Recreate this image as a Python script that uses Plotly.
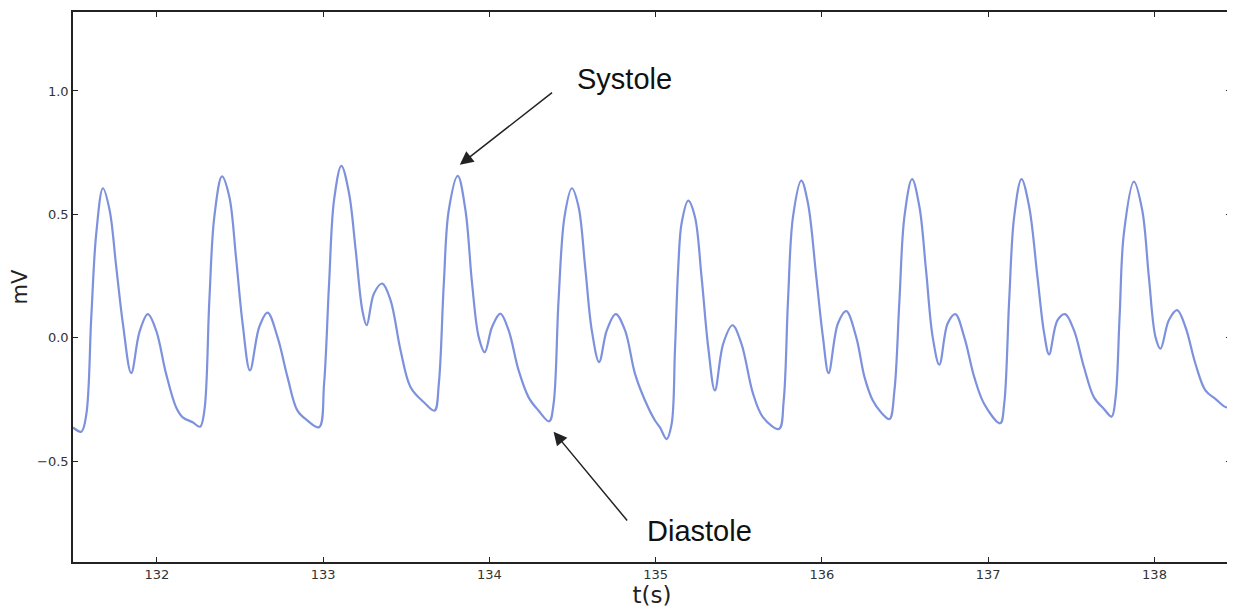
import plotly.graph_objects as go

# Time (s) and signal (mV)
t = [131.496, 131.546, 131.576, 131.606, 131.636, 131.676, 131.716, 131.756, 131.796, 131.846,
     131.896, 131.946, 131.996, 132.056, 132.116, 132.156, 132.216, 132.26, 132.286, 132.316,
     132.346, 132.392, 132.436, 132.476, 132.516, 132.56, 132.616, 132.666, 132.726, 132.786,
     132.846, 132.906, 132.976, 133.006, 133.036, 133.066, 133.11, 133.156, 133.196, 133.236,
     133.262, 133.306, 133.356, 133.406, 133.466, 133.526, 133.606, 133.67, 133.696, 133.726,
     133.756, 133.81, 133.856, 133.896, 133.936, 133.972, 134.016, 134.066, 134.116, 134.176,
     134.236, 134.296, 134.36, 134.386, 134.416, 134.452, 134.496, 134.536, 134.576, 134.616,
     134.66, 134.706, 134.76, 134.816, 134.876, 134.936, 134.996, 135.026, 135.066, 135.096,
     135.116, 135.136, 135.156, 135.196, 135.236, 135.276, 135.316, 135.356, 135.406, 135.462,
     135.516, 135.586, 135.646, 135.742, 135.77, 135.796, 135.826, 135.876, 135.916, 135.966,
     136.006, 136.04, 136.096, 136.146, 136.206, 136.256, 136.306, 136.356, 136.406, 136.436,
     136.466, 136.496, 136.542, 136.586, 136.626, 136.666, 136.706, 136.756, 136.802, 136.856,
     136.916, 136.976, 137.072, 137.096, 137.126, 137.156, 137.2, 137.246, 137.296, 137.336,
     137.366, 137.416, 137.462, 137.516, 137.576, 137.636, 137.696, 137.742, 137.766, 137.79,
     137.816, 137.876, 137.926, 137.966, 138.006, 138.036, 138.086, 138.136, 138.186, 138.246,
     138.306, 138.366, 138.436, 138.466]
mv = [-0.363, -0.380, -0.31, 0.085, 0.424, 0.606, 0.518, 0.288, 0.058, -0.143,
      0.024, 0.096, 0.030, -0.146, -0.281, -0.322, -0.342, -0.360, -0.295, 0.152,
      0.491, 0.654, 0.572, 0.328, 0.058, -0.132, 0.044, 0.102, 0.003, -0.159,
      -0.295, -0.335, -0.362, -0.186, 0.220, 0.559, 0.697, 0.586, 0.356, 0.112,
      0.051, 0.180, 0.220, 0.152, -0.051, -0.200, -0.261, -0.295, -0.186, 0.220,
      0.518, 0.656, 0.518, 0.220, 0.003, -0.058, 0.044, 0.098, 0.030, -0.132,
      -0.241, -0.295, -0.338, -0.268, 0.152, 0.491, 0.606, 0.532, 0.288, 0.030,
      -0.098, 0.030, 0.096, 0.030, -0.146, -0.254, -0.335, -0.363, -0.410, -0.349,
      -0.051, 0.288, 0.464, 0.556, 0.491, 0.247, -0.037, -0.213, -0.024, 0.051,
      -0.024, -0.227, -0.322, -0.369, -0.254, 0.152, 0.491, 0.637, 0.545, 0.247,
      0.003, -0.143, 0.058, 0.108, 0.003, -0.159, -0.254, -0.302, -0.329, -0.213,
      0.152, 0.491, 0.643, 0.532, 0.274, 0.003, -0.109, 0.058, 0.096, 0.003,
      -0.159, -0.268, -0.346, -0.268, 0.152, 0.491, 0.643, 0.532, 0.247, 0.02,
      -0.067, 0.071, 0.096, 0.030, -0.119, -0.241, -0.288, -0.319, -0.241, 0.085,
      0.424, 0.633, 0.518, 0.247, 0.003, -0.044, 0.071, 0.112, 0.044, -0.105,
      -0.213, -0.247, -0.281, -0.200]

x_ticks = [132, 133, 134, 135, 136, 137, 138]
y_ticks = [-0.5, 0.0, 0.5, 1.0]
y_tick_text = ["\u22120.5", "0.0", "0.5", "1.0"]

fig = go.Figure()
fig.add_trace(go.Scatter(
    x=t, y=mv, mode="lines",
    line=dict(color="#7d91dd", width=2.2, shape="spline", smoothing=1.0),
    showlegend=False, hoverinfo="skip"))

axis_common = dict(
    showline=True, linecolor="#222", linewidth=1.5, mirror="ticks",
    ticks="inside", ticklen=5, tickwidth=1.2, tickcolor="#222",
    showgrid=False, zeroline=False,
    tickfont=dict(family="DejaVu Sans", size=13, color="#333"),
)

fig.update_xaxes(range=[131.496, 138.46], tickvals=x_ticks,
                 title=dict(text="t(s)", font=dict(family="DejaVu Sans", size=23, color="#222"), standoff=6),
                 **axis_common)
fig.update_yaxes(range=[-0.908, 1.32], tickvals=y_ticks, ticktext=y_tick_text,
                 title=dict(text="mV", font=dict(family="DejaVu Sans", size=21, color="#222"), standoff=8),
                 **axis_common)

# Arrows
fig.add_annotation(x=133.822, y=0.701, ax=134.386, ay=0.998, xref="x", yref="y",
                   axref="x", ayref="y", text="", showarrow=True, arrowhead=2,
                   arrowsize=1.8, arrowwidth=1.5, arrowcolor="#222")
fig.add_annotation(x=134.386, y=-0.380, ax=134.836, ay=-0.746, xref="x", yref="y",
                   axref="x", ayref="y", text="", showarrow=True, arrowhead=2,
                   arrowsize=1.8, arrowwidth=1.5, arrowcolor="#222")
# Labels
fig.add_annotation(x=134.812, y=1.047, xref="x", yref="y", text="Systole", showarrow=False,
                   font=dict(family="Liberation Sans", size=29, color="#111"))
fig.add_annotation(x=135.262, y=-0.783, xref="x", yref="y", text="Diastole", showarrow=False,
                   font=dict(family="Liberation Sans", size=29, color="#111"))

fig.update_layout(
    width=1227, height=604, autosize=False,
    margin=dict(l=65, r=2, t=4, b=50),
    paper_bgcolor="white", plot_bgcolor="white",
)

fig.write_html("out.html")
